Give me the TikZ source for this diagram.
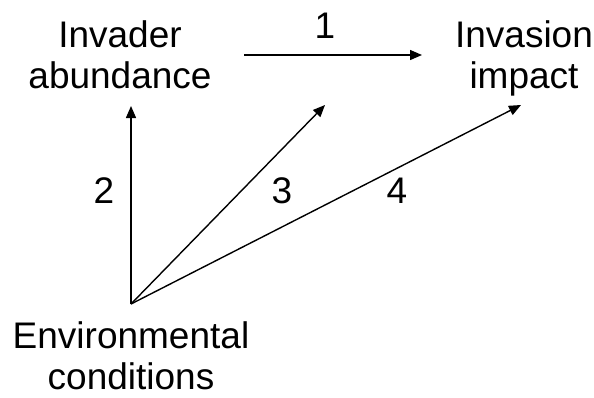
\documentclass[tikz,border=0pt]{standalone}
\usepackage{fontspec}
\setmainfont{Liberation Sans}
\usetikzlibrary{arrows.meta}
\begin{document}
\begin{tikzpicture}[x=1pt,y=-1pt,
  lbl/.style={font=\fontsize{37}{41}\selectfont, align=center, inner sep=0pt, anchor=base},
  num/.style={font=\fontsize{37}{41}\selectfont, inner sep=0pt, anchor=base},
  arr/.style={line width=1.4pt,-{Triangle[length=12pt,width=10pt]}}]
\useasboundingbox (0,0) rectangle (594,397);
\node[lbl] (ia) at (120,88) {Invader\\abundance};
\node[lbl] (ii) at (524,88) {Invasion\\impact};
\node[lbl] (env) at (131,389) {Environmental\\conditions};
\coordinate (apex) at (131,304);
\coordinate (t2) at (131,106);
\coordinate (t3) at (325,105);
\coordinate (t4) at (521,105);
\coordinate (s1) at (244,55);
\coordinate (e1) at (422,55);
\draw[arr] (s1) -- (e1);
\draw[arr] (apex) -- (t2);
\draw[arr] (apex) -- (t3);
\draw[arr] (apex) -- (t4);
\node[num] (n1) at (325,38) {1};
\node[num] (n2) at (104,203) {2};
\node[num] (n3) at (282,203) {3};
\node[num] (n4) at (397,203) {4};
\end{tikzpicture}
\end{document}
